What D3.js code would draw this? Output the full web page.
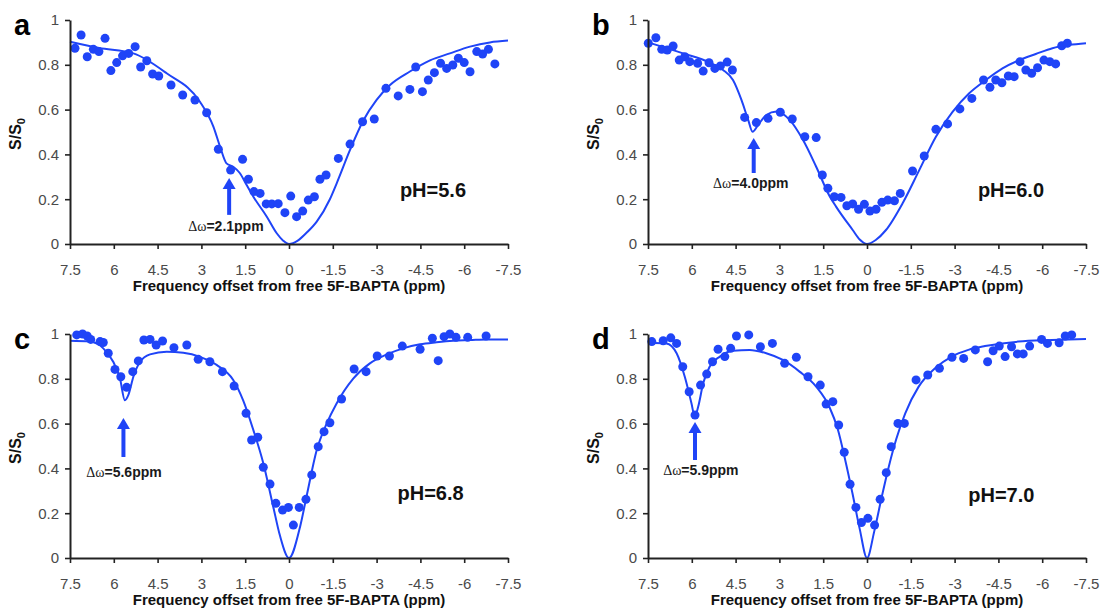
<!DOCTYPE html>
<html>
<head>
<meta charset="utf-8">
<script src="https://cdn.jsdelivr.net/npm/d3@7"></script>
<style>
  body { margin: 0; background: #fff; }
  text { font-family: "Liberation Sans", Arial, sans-serif; }
</style>
</head>
<body>
<div id="chart"></div>
<script>
// Data: [ppm, S/S0]
var dotsA = [[7.33,.874],[7.12,.933],[6.91,.836],[6.70,.869],[6.51,.859],[6.30,.918],[6.10,.774],[5.90,.81],[5.70,.84],[5.49,.851],[5.27,.881],[5.08,.79],[4.87,.818],[4.67,.759],[4.46,.75],[4.04,.71],[3.64,.665],[3.22,.643],[2.82,.586],[2.42,.423],[2.0,.33],[1.59,.378],[1.39,.289],[1.2,.234],[0.99,.226],[0.78,.179],[0.59,.179],[0.37,.18],[0.14,.14],[-0.06,.214],[-0.26,.122],[-0.47,.147],[-0.66,.196],[-0.87,.211],[-1.06,.289],[-1.27,.308],[-1.69,.382],[-2.09,.446],[-2.52,.546],[-2.92,.558],[-3.32,.695],[-3.74,.661],[-4.14,.69],[-4.34,.79],[-4.57,.68],[-4.77,.732],[-4.98,.765],[-5.19,.807],[-5.4,.784],[-5.61,.799],[-5.8,.829],[-6.0,.81],[-6.2,.769],[-6.43,.859],[-6.63,.848],[-6.83,.869],[-7.05,.804]];
var fitA = [[7.5,.903],[6.5,.875],[5.33,.851],[4.19,.762],[3.05,.635],[2.59,.524],[2.36,.434],[2.14,.36],[1.91,.345],[1.68,.316],[1.45,.263],[1.22,.211],[0.76,.122],[0.42,.048],[0.2,.015],[0,0],[-0.3,.015],[-0.6,.05],[-0.95,.1],[-1.4,.2],[-1.63,.27],[-2.09,.42],[-2.54,.55],[-3.0,.643],[-3.46,.71],[-4.14,.77],[-4.83,.82],[-5.51,.851],[-6.2,.881],[-6.88,.9],[-7.5,.908]];

var dotsB = [[7.49,.896],[7.23,.921],[7.03,.869],[6.84,.866],[6.64,.884],[6.43,.821],[6.24,.836],[6.07,.814],[5.8,.807],[5.61,.772],[5.41,.809],[5.21,.784],[5.02,.795],[4.79,.812],[4.61,.777],[4.19,.565],[3.79,.542],[3.39,.561],[2.97,.588],[2.56,.558],[2.13,.479],[1.74,.475],[1.53,.308],[1.34,.249],[1.12,.211],[0.89,.208],[0.69,.171],[0.49,.179],[0.29,.155],[0.09,.177],[-0.1,.147],[-0.31,.155],[-0.51,.186],[-0.71,.196],[-0.94,.193],[-1.14,.226],[-1.56,.326],[-1.96,.393],[-2.36,.512],[-2.76,.536],[-3.18,.603],[-3.59,.65],[-3.99,.732],[-4.21,.7],[-4.41,.732],[-4.62,.72],[-4.84,.75],[-5.04,.747],[-5.24,.814],[-5.44,.777],[-5.64,.762],[-5.84,.787],[-6.06,.821],[-6.26,.814],[-6.46,.804],[-6.67,.885],[-6.86,.896]];
var fitB = [[7.5,.9],[6.3,.851],[5.39,.81],[4.93,.777],[4.59,.732],[4.3,.643],[4.07,.554],[3.92,.501],[3.73,.531],[3.45,.576],[3.1,.591],[2.65,.554],[2.19,.464],[1.74,.345],[1.27,.211],[1.06,.167],[0.49,.0625],[0.25,.02],[0,0],[-0.3,.018],[-0.65,.0625],[-1.22,.182],[-1.79,.33],[-2.36,.479],[-2.93,.59],[-3.5,.673],[-4.07,.732],[-4.64,.784],[-5.21,.821],[-5.78,.848],[-6.35,.874],[-6.92,.888],[-7.5,.896]];

var dotsC = [[7.27,.996],[7.07,1.0],[6.91,.991],[6.79,.976],[6.47,.966],[6.36,.962],[6.19,.914],[5.96,.842],[5.76,.809],[5.56,.762],[5.35,.832],[5.16,.88],[4.97,.973],[4.76,.976],[4.55,.951],[4.33,.969],[3.94,.939],[3.5,.951],[3.11,.887],[2.71,.876],[2.28,.832],[1.88,.768],[1.47,.646],[1.28,.527],[1.07,.539],[0.88,.405],[0.65,.33],[0.45,.244],[0.22,.214],[0.02,.226],[-0.15,.147],[-0.35,.226],[-0.58,.262],[-0.78,.371],[-1.0,.497],[-1.2,.564],[-1.4,.604],[-1.8,.71],[-2.23,.844],[-2.64,.832],[-3.02,.902],[-3.44,.902],[-3.88,.946],[-4.49,.932],[-4.91,.981],[-5.11,.881],[-5.31,.988],[-5.51,1.0],[-5.72,.985],[-6.12,.985],[-6.75,.991]];
var fitC = [[7.5,.97],[6.82,.966],[6.36,.936],[6.02,.876],[5.79,.802],[5.62,.704],[5.5,.728],[5.33,.809],[5.1,.876],[4.76,.909],[4.19,.921],[3.62,.916],[3.05,.898],[2.48,.862],[1.91,.795],[1.57,.704],[1.22,.571],[0.88,.423],[0.54,.229],[0.31,.1],[0,0],[-0.38,.14],[-0.6,.274],[-0.95,.482],[-1.29,.6],[-1.63,.69],[-2.2,.801],[-2.77,.869],[-3.35,.909],[-3.91,.936],[-4.49,.954],[-5.05,.963],[-5.62,.97],[-6.2,.973],[-6.77,.976],[-7.5,.976]];

var dotsD = [[7.37,.966],[6.98,.97],[6.72,.983],[6.52,.958],[6.31,.854],[6.09,.742],[5.89,.638],[5.7,.772],[5.49,.821],[5.29,.876],[5.1,.932],[4.87,.899],[4.67,.936],[4.47,.991],[4.05,.996],[3.65,.943],[3.24,.958],[2.82,.869],[2.42,.896],[2.02,.809],[1.6,.772],[1.4,.687],[1.17,.698],[0.97,.594],[0.78,.472],[0.58,.329],[0.38,.226],[0.19,.158],[-0.03,.177],[-0.26,.147],[-0.45,.262],[-0.66,.381],[-0.83,.497],[-1.06,.601],[-1.28,.601],[-1.68,.795],[-2.08,.817],[-2.48,.847],[-2.91,.896],[-3.31,.891],[-3.71,.929],[-4.13,.876],[-4.32,.925],[-4.53,.946],[-4.73,.899],[-4.95,.943],[-5.15,.911],[-5.35,.911],[-5.57,.946],[-5.98,.976],[-6.18,.958],[-6.58,.961],[-6.79,.991],[-7.01,.996]];
var fitD = [[7.5,.961],[6.87,.958],[6.52,.914],[6.24,.809],[6.01,.69],[5.9,.631],[5.78,.676],[5.61,.78],[5.39,.854],[5.04,.899],[4.59,.925],[4.02,.929],[3.45,.914],[2.88,.884],[2.31,.832],[1.74,.765],[1.28,.672],[1.0,.575],[0.75,.44],[0.5,.29],[0.25,.13],[0,0],[-0.25,.12],[-0.5,.27],[-0.75,.41],[-1.0,.53],[-1.31,.646],[-1.77,.765],[-2.33,.847],[-2.9,.899],[-3.47,.929],[-4.04,.946],[-5.18,.966],[-6.32,.973],[-7.5,.978]];

// Tick values / labels
var xTicks = [7.5, 6, 4.5, 3, 1.5, 0, -1.5, -3, -4.5, -6, -7.5];
var xTickLabels = ["7.5", "6", "4.5", "3", "1.5", "0", "-1.5", "-3", "-4.5", "-6", "-7.5"];
var yTicks = [0, 0.2, 0.4, 0.6, 0.8, 1];
var yTickLabels = ["0", "0.2", "0.4", "0.6", "0.8", "1"];

// Panel letters, pH values, exchange offsets
var panelLetters = ["a", "b", "c", "d"];
var phLabels = ["pH=5.6", "pH=6.0", "pH=6.8", "pH=7.0"];
var shiftLabels = ["=2.1ppm", "=4.0ppm", "=5.6ppm", "=5.9ppm"];

var width = 1106, height = 610;
var blue = "#1f44f7";

var svg = d3.select("#chart").append("svg")
  .attr("width", width)
  .attr("height", height);

// Layout of each panel (plot box + annotation placement)
var panels = [
  { left: 70,  top: 20,  dots: dotsA, fit: fitA, arrowX: 2.05, arrowTop: .295, arrowBot: .13,  noteX: 2.16, noteY: .058, phX: -4.93, phY: .21 },
  { left: 648, top: 20,  dots: dotsB, fit: fitB, arrowX: 3.88, arrowTop: .473, arrowBot: .317, noteX: 3.98, noteY: .25,  phX: -4.93, phY: .21 },
  { left: 70,  top: 334, dots: dotsC, fit: fitC, arrowX: 5.67, arrowTop: .625, arrowBot: .451, noteX: 5.65, noteY: .362, phX: -4.85, phY: .26 },
  { left: 648, top: 334, dots: dotsD, fit: fitD, arrowX: 5.89, arrowTop: .607, arrowBot: .4375,noteX: 5.69, noteY: .37,  phX: -4.6,  phY: .25 }
];
var plotW = 438, plotH = 224;

panels.forEach(function(p, i) {
  var g = svg.append("g").attr("transform", "translate(" + p.left + "," + p.top + ")");

  var x = d3.scaleLinear().domain([7.5, -7.5]).range([0, plotW]);
  var y = d3.scaleLinear().domain([0, 1]).range([plotH, 0]);

  // fit line
  var line = d3.line()
    .x(function(d) { return x(d[0]); })
    .y(function(d) { return y(d[1]); })
    .curve(d3.curveMonotoneX);
  g.append("path")
    .datum(p.fit)
    .attr("d", line)
    .attr("fill", "none")
    .attr("stroke", blue)
    .attr("stroke-width", 2);

  // data points
  g.selectAll("circle.dot")
    .data(p.dots)
    .enter()
    .append("circle")
    .attr("class", "dot")
    .attr("cx", function(d) { return x(d[0]); })
    .attr("cy", function(d) { return y(d[1]); })
    .attr("r", 4.5)
    .attr("fill", blue);

  // axes
  var xAxis = d3.axisBottom(x)
    .tickValues(xTicks)
    .tickFormat(function(d, k) { return xTickLabels[k]; })
    .tickSizeInner(5)
    .tickSizeOuter(0)
    .tickPadding(15);
  var yAxis = d3.axisLeft(y)
    .tickValues(yTicks)
    .tickFormat(function(d, k) { return yTickLabels[k]; })
    .tickSizeInner(5)
    .tickSizeOuter(0)
    .tickPadding(6);

  var gx = g.append("g").attr("transform", "translate(0," + plotH + ")").call(xAxis);
  var gy = g.append("g").call(yAxis);
  [gx, gy].forEach(function(ax) {
    ax.select(".domain").attr("stroke", "#222").attr("stroke-width", 2);
    ax.selectAll(".tick line").attr("stroke", "#222").attr("stroke-width", 1.6);
    ax.selectAll(".tick text")
      .attr("fill", "#4a4a4a")
      .style("font-size", "15px")
      .style("font-family", "'Liberation Sans', Arial, sans-serif");
  });

  // x axis title
  g.append("text")
    .attr("x", plotW / 2)
    .attr("y", plotH + 47)
    .attr("text-anchor", "middle")
    .attr("font-weight", "bold")
    .attr("font-size", 15)
    .attr("fill", "#111")
    .text("Frequency offset from free 5F-BAPTA (ppm)");

  // y axis title S/S0
  var yt = g.append("text")
    .attr("transform", "translate(-49," + (plotH / 2 + 2) + ")rotate(-90)")
    .attr("text-anchor", "middle")
    .attr("font-weight", "bold")
    .attr("font-size", 16)
    .attr("fill", "#111");
  yt.append("tspan").text("S/S");
  yt.append("tspan").attr("font-size", 11).attr("dy", 4).text("0");

  // panel letter
  g.append("text")
    .attr("x", -56)
    .attr("y", 15)
    .attr("font-weight", "bold")
    .attr("font-size", 29)
    .attr("fill", "#000")
    .text(panelLetters[i]);

  // pH label
  g.append("text")
    .attr("x", x(p.phX))
    .attr("y", y(p.phY))
    .attr("text-anchor", "middle")
    .attr("font-weight", "bold")
    .attr("font-size", 20)
    .attr("fill", "#111")
    .text(phLabels[i]);

  // arrow
  var ax0 = x(p.arrowX), yTop = y(p.arrowTop), yBot = y(p.arrowBot);
  g.append("line")
    .attr("x1", ax0).attr("x2", ax0)
    .attr("y1", yTop + 8).attr("y2", yBot)
    .attr("stroke", blue)
    .attr("stroke-width", 4);
  g.append("path")
    .attr("d", "M" + ax0 + "," + yTop + "L" + (ax0 - 6.5) + "," + (yTop + 11) + "L" + (ax0 + 6.5) + "," + (yTop + 11) + "Z")
    .attr("fill", blue);

  // shift annotation
  var note = g.append("text")
    .attr("x", x(p.noteX))
    .attr("y", y(p.noteY))
    .attr("text-anchor", "middle")
    .attr("font-size", 14)
    .attr("fill", "#1a1a1a");
  note.append("tspan")
    .style("font-family", "'Liberation Serif', 'DejaVu Serif', serif")
    .attr("font-size", 14)
    .text("\u0394\u03c9");
  note.append("tspan")
    .attr("font-weight", "bold")
    .text(shiftLabels[i]);
});
</script>
</body>
</html>
